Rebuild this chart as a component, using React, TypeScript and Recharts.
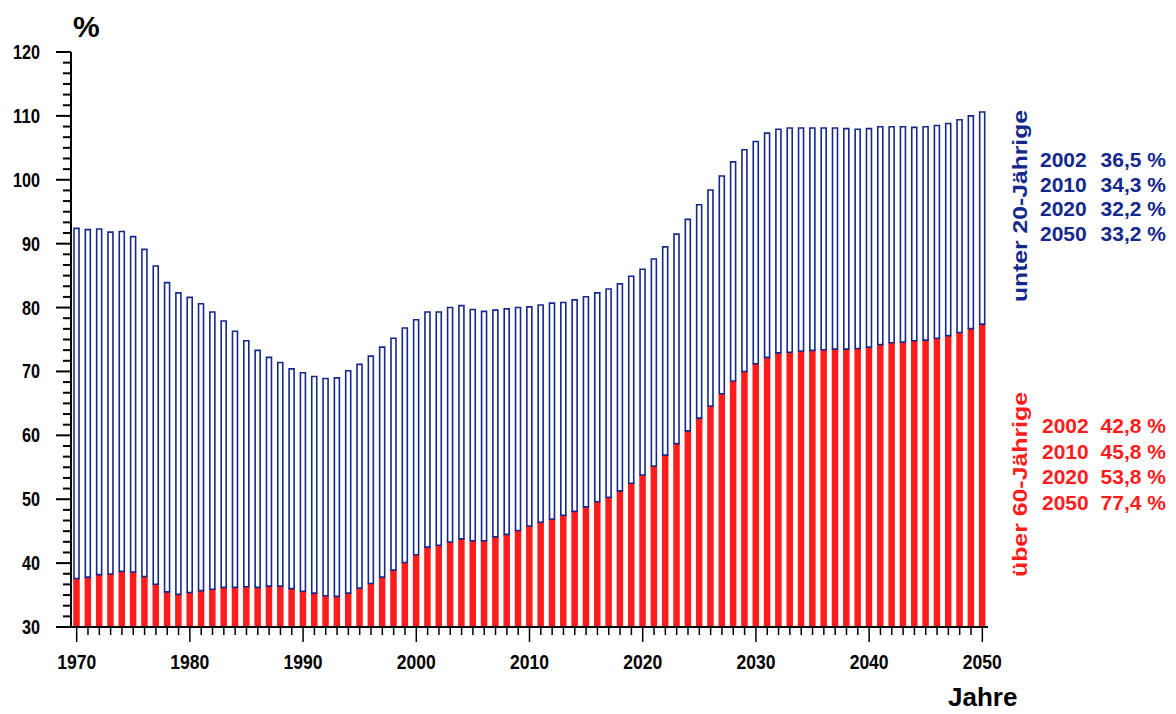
import { BarChart, Bar, XAxis, YAxis } from "recharts";

const YEARS = Array.from({ length: 81 }, (_, i) => 1970 + i);

// über 60-Jährige je 100 Personen 20-60 (rot)
const OLD = [
  37.6, 37.8, 38.2, 38.3, 38.7, 38.6, 37.9, 36.7, 35.5, 35.1,
  35.4, 35.7, 35.9, 36.2, 36.2, 36.3, 36.2, 36.4, 36.4, 36.0,
  35.6, 35.3, 34.9, 34.8, 35.3, 36.1, 36.8, 37.8, 38.9, 40.1,
  41.3, 42.5, 42.8, 43.3, 43.8, 43.5, 43.5, 44.1, 44.5, 45.1,
  45.8, 46.4, 46.9, 47.5, 48.1, 48.8, 49.6, 50.3, 51.3, 52.5,
  53.8, 55.2, 56.9, 58.7, 60.7, 62.7, 64.6, 66.5, 68.5, 70.0,
  71.2, 72.2, 72.9, 73.0, 73.2, 73.3, 73.4, 73.5, 73.5, 73.6,
  73.8, 74.2, 74.5, 74.6, 74.8, 74.9, 75.2, 75.6, 76.1, 76.7,
  77.4,
];

// Gesamtquotient (Bar-Oberkante)
const TOTAL = [
  92.4, 92.2, 92.3, 91.8, 91.9, 91.1, 89.1, 86.5, 83.9, 82.3,
  81.6, 80.6, 79.3, 77.9, 76.3, 74.8, 73.3, 72.2, 71.4, 70.4,
  69.8, 69.2, 68.9, 69.0, 70.1, 71.1, 72.4, 73.8, 75.2, 76.8,
  78.1, 79.3, 79.3, 80.0, 80.3, 79.7, 79.4, 79.6, 79.8, 80.0,
  80.1, 80.4, 80.7, 80.8, 81.2, 81.7, 82.3, 82.9, 83.7, 84.9,
  86.0, 87.6, 89.5, 91.5, 93.8, 96.1, 98.4, 100.6, 102.8, 104.7,
  106.0, 107.3, 107.9, 108.1, 108.1, 108.1, 108.1, 108.1, 108.0, 107.9,
  108.0, 108.3, 108.3, 108.3, 108.2, 108.3, 108.5, 108.8, 109.4, 110.0,
  110.6,
];

const YOUNG_NOTES = [
  ["2002", "36,5 %"],
  ["2010", "34,3 %"],
  ["2020", "32,2 %"],
  ["2050", "33,2 %"],
];
const OLD_NOTES = [
  ["2002", "42,8 %"],
  ["2010", "45,8 %"],
  ["2020", "53,8 %"],
  ["2050", "77,4 %"],
];

const Y_TICKS = Array.from({ length: 55 }, (_, i) => 30 + (i * 10) / 6);

const data = YEARS.map((year, i) => ({
  year,
  old: OLD[i],
  young: Math.round((TOTAL[i] - OLD[i]) * 10) / 10,
}));

const FONT = "'Liberation Sans', Arial, sans-serif";
const BLUE = "#15298c";
const RED = "#ff1c1c";

function YTick({ x, y, payload }: any) {
  const v = payload.value;
  const major = Math.abs(v - Math.round(v / 10) * 10) < 0.01;
  const label = String(Math.round(v));
  return (
    <g>
      <line x1={x - (major ? 15 : 8)} x2={x} y1={y} y2={y} stroke="#000" strokeWidth={2} />
      {major && (
        <text
          x={x - 31}
          y={y + 7}
          textAnchor="end"
          fontSize={20}
          fontWeight="bold"
          fontFamily={FONT}
          fill="#000"
          textLength={label.length * 9}
          lengthAdjust="spacingAndGlyphs"
        >
          {label}
        </text>
      )}
    </g>
  );
}

function XTick({ x, y, payload }: any) {
  const yr = Number(payload.value);
  const major = yr % 10 === 0;
  return (
    <g>
      <line x1={x} x2={x} y1={y} y2={y + (major ? 15 : 8)} stroke="#000" strokeWidth={1.5} />
      {major && (
        <text
          x={x}
          y={y + 42}
          textAnchor="middle"
          fontSize={21}
          fontWeight="bold"
          fontFamily={FONT}
          fill="#000"
          textLength={39}
          lengthAdjust="spacingAndGlyphs"
        >
          {yr}
        </text>
      )}
    </g>
  );
}

export default function App() {
  return (
    <div style={{ position: "absolute", left: 0, top: 0, width: 1176, height: 714, background: "#fff" }}>
      <BarChart
        width={1176}
        height={714}
        data={data}
        margin={{ top: 52, right: 188, bottom: 47, left: 31 }}
        barCategoryGap={0}
      >
        <XAxis
          dataKey="year"
          type="category"
          height={40}
          interval={0}
          tickSize={0}
          tickMargin={0}
          tickLine={false}
          axisLine={{ stroke: "#000", strokeWidth: 2 }}
          tick={<XTick />}
        />
        <YAxis
          type="number"
          domain={[30, 120]}
          allowDataOverflow
          ticks={Y_TICKS}
          interval={0}
          width={40}
          tickSize={0}
          tickMargin={0}
          tickLine={false}
          axisLine={{ stroke: "#000", strokeWidth: 2 }}
          tick={<YTick />}
        />
        <Bar dataKey="old" stackId="a" barSize={5} fill={RED} stroke={RED} strokeWidth={1.5} isAnimationActive={false} />
        <Bar dataKey="young" stackId="a" barSize={5} fill="#fff" stroke={BLUE} strokeWidth={1.6} isAnimationActive={false} />
      </BarChart>
      <svg
        width={1176}
        height={714}
        style={{ position: "absolute", left: 0, top: 0, pointerEvents: "none" }}
        fontFamily={FONT}
        fontWeight="bold"
      >
        <text x={73} y={37} fontSize={30}>%</text>
        <text x={948} y={706} fontSize={26}>Jahre</text>
        <text
          transform="translate(1027,302) rotate(-90)"
          fontSize={21}
          fill={BLUE}
          textLength={192}
          lengthAdjust="spacingAndGlyphs"
        >
          unter 20-Jährige
        </text>
        <text
          transform="translate(1027,577) rotate(-90)"
          fontSize={21}
          fill={RED}
          textLength={185}
          lengthAdjust="spacingAndGlyphs"
        >
          über 60-Jährige
        </text>
        {YOUNG_NOTES.map(([yr, val], i) => (
          <g key={yr} fill={BLUE} fontSize={21}>
            <text x={1040} y={167 + i * 24.5}>{yr}</text>
            <text x={1166} y={167 + i * 24.5} textAnchor="end">{val}</text>
          </g>
        ))}
        {OLD_NOTES.map(([yr, val], i) => (
          <g key={yr} fill={RED} fontSize={21}>
            <text x={1042} y={433 + i * 25.5}>{yr}</text>
            <text x={1166} y={433 + i * 25.5} textAnchor="end">{val}</text>
          </g>
        ))}
      </svg>
    </div>
  );
}
